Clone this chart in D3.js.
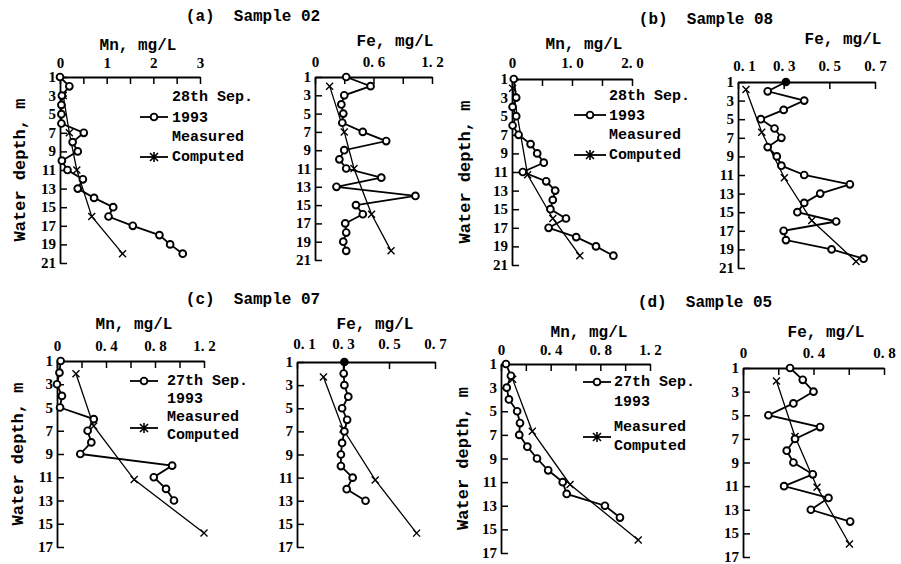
<!DOCTYPE html>
<html>
<head>
<meta charset="utf-8">
<script src="https://cdn.jsdelivr.net/npm/d3@7/dist/d3.min.js"></script>
<style>
  body { margin: 0; background: #fff; }
  svg text { fill: #000; }
</style>
</head>
<body>
<div id="chart"></div>
<script>
// ---- data ----
// depths (m) of measured samples
var depthA = [1,2,3,4,5,6,7,8,9,10,11,12,13,14,15,16,17,18,19,20];
var depthB = [1,3,4,5,6,7,8,9,10,11,12,13,14,15,16,17,18,19,20];
var depthB2 = [1,2,3,4,5,6,7,8,9,10,11,12,13,14,15,16,17,18,19,20];
var depthC = [1,2,3,4,5,6,7,8,9,10,11,12,13];
var depthD = [1,2,3,4,5,6,7,8,9,10,11,12,13,14];

// sample 02
var mnMeasA = [0, 0.2, 0.04, 0.03, 0.03, 0.03, 0.51, 0.27, 0.38, 0.04, 0.16, 0.49, 0.38, 0.73, 1.14, 1.04, 1.56, 2.13, 2.36, 2.63];
var mnCompDepthA = [3, 7, 11, 16, 20];
var mnCompA = [0.07, 0.2, 0.36, 0.68, 1.34];
var feMeasA = [0.32, 0.57, 0.30, 0.27, 0.29, 0.28, 0.49, 0.73, 0.30, 0.25, 0.32, 0.68, 0.22, 1.03, 0.42, 0.49, 0.31, 0.32, 0.29, 0.32];
var feCompDepthA = [2, 7, 11, 16, 20];
var feCompA = [0.15, 0.30, 0.40, 0.58, 0.78];

// sample 08
var mnMeasB = [0.03, 0.07, 0.01, 0.07, 0.01, 0.11, 0.31, 0.42, 0.53, 0.18, 0.57, 0.72, 0.68, 0.64, 0.9, 0.61, 1.07, 1.4, 1.69];
var mnCompDepthB = [2, 11.3, 16, 20];
var mnCompB = [0.01, 0.26, 0.68, 1.13];
var feMeasB = [0.31, 0.23, 0.39, 0.30, 0.20, 0.26, 0.29, 0.23, 0.27, 0.29, 0.39, 0.59, 0.46, 0.39, 0.36, 0.53, 0.30, 0.31, 0.51, 0.65];
var feCompDepthB = [1.8, 6.4, 11.3, 15.9, 20.3];
var feCompB = [0.135, 0.204, 0.303, 0.423, 0.617];

// sample 07
var mnMeasC = [0.03, 0.02, 0, 0.04, 0.025, 0.30, 0.25, 0.28, 0.19, 0.94, 0.79, 0.89, 0.955];
var mnCompDepthC = [2.1, 6.6, 11.2, 15.8];
var mnCompC = [0.155, 0.30, 0.63, 1.2];
var feMeasC = [0.306, 0.303, 0.306, 0.323, 0.296, 0.318, 0.306, 0.296, 0.291, 0.291, 0.342, 0.316, 0.398];
var feCompDepthC = [2.3, 6.8, 11.2, 15.8];
var feCompC = [0.215, 0.30, 0.44, 0.62];

// sample 05
var mnMeasD = [0.04, 0.08, 0.046, 0.064, 0.13, 0.153, 0.147, 0.212, 0.29, 0.38, 0.497, 0.529, 0.837, 0.958];
var mnCompDepthD = [2.3, 6.7, 11.2, 15.9];
var mnCompD = [0.094, 0.252, 0.556, 1.105];
var feMeasD = [0.267, 0.339, 0.40, 0.286, 0.144, 0.4375, 0.295, 0.248, 0.286, 0.396, 0.233, 0.485, 0.385, 0.608];
var feCompDepthD = [2.1, 6.8, 11.1, 15.9];
var feCompD = [0.19, 0.295, 0.42, 0.604];

// tick values and labels
var depthTicks21 = [1,3,5,7,9,11,13,15,17,19,21];
var depthTicks17 = [1,3,5,7,9,11,13,15,17];
var mnTicksA = [0, 0.5, 1, 1.5, 2, 2.5, 3];
var mnLabelsA = ['0', '', '1', '', '2', '', '3'];
var feTicksA = [0, 0.3, 0.6, 0.9, 1.2];
var feLabelsA = ['0', '', '0. 6', '', '1. 2'];
var mnTicksB = [0, 0.5, 1, 1.5, 2];
var mnLabelsB = ['0', '', '1. 0', '', '2. 0'];
var feTicks17 = [0.1, 0.3, 0.5, 0.7];
var feLabels17 = ['0. 1', '0. 3', '0. 5', '0. 7'];
var mnTicks12 = [0, 0.2, 0.4, 0.6, 0.8, 1.0, 1.2];
var mnLabels12 = ['0', '', '0. 4', '', '0. 8', '', '1. 2'];
var feTicksD = [0, 0.2, 0.4, 0.6, 0.8];
var feLabelsD = ['0', '', '0. 4', '', '0. 8'];

var titles = ['(a)  Sample 02', '(b)  Sample 08', '(c)  Sample 07', '(d)  Sample 05'];

// ---- drawing ----
var width = 901, height = 564;
var svg = d3.select('#chart').append('svg')
  .attr('width', width).attr('height', height);

var textFont = 'Liberation Mono, monospace';
var numFont = 'Liberation Serif, serif';

// pad: gap between top axis and its labels, shift0: nudge of first label
var panels = [
  {x0: 60, x1: 200, y0: 77, y1: 263, dmax: 21, dom: [0, 3], ticks: mnTicksA, labels: mnLabelsA, yticks: depthTicks21, pad: 9,
   name: 'Mn, mg/L', nx: 138, ny: 46, depth: depthA, meas: mnMeasA, cdepth: mnCompDepthA, comp: mnCompA, ylab: 20},
  {x0: 315, x1: 432, y0: 77, y1: 260, dmax: 21, dom: [0, 1.2], ticks: feTicksA, labels: feLabelsA, yticks: depthTicks21, pad: 10,
   name: 'Fe, mg/L', nx: 395, ny: 42, depth: depthA, meas: feMeasA, cdepth: feCompDepthA, comp: feCompA},
  {x0: 512, x1: 632, y0: 79, y1: 265, dmax: 21, dom: [0, 2], ticks: mnTicksB, labels: mnLabelsB, yticks: depthTicks21, pad: 11,
   name: 'Mn, mg/L', nx: 584, ny: 45, depth: depthB, meas: mnMeasB, cdepth: mnCompDepthB, comp: mnCompB, ylab: 465},
  {x0: 738, x1: 875, y0: 82, y1: 268, dmax: 21, dom: [0.1, 0.7], ticks: feTicks17, labels: feLabels17, yticks: depthTicks21, pad: 11, shift0: 6,
   name: 'Fe, mg/L', nx: 843, ny: 40, depth: depthB2, meas: feMeasB, cdepth: feCompDepthB, comp: feCompB, solidFirst: true},
  {x0: 57, x1: 204, y0: 361, y1: 547, dmax: 17, dom: [0, 1.2], ticks: mnTicks12, labels: mnLabels12, yticks: depthTicks17, pad: 10,
   name: 'Mn, mg/L', nx: 134, ny: 325, depth: depthC, meas: mnMeasC, cdepth: mnCompDepthC, comp: mnCompC, ylab: 18},
  {x0: 297, x1: 435, y0: 362, y1: 547, dmax: 17, dom: [0.1, 0.7], ticks: feTicks17, labels: feLabels17, yticks: depthTicks17, pad: 13, shift0: 7,
   name: 'Fe, mg/L', nx: 375, ny: 325, depth: depthC, meas: feMeasC, cdepth: feCompDepthC, comp: feCompC, solidFirst: true},
  {x0: 501, x1: 650, y0: 364, y1: 553, dmax: 17, dom: [0, 1.2], ticks: mnTicks12, labels: mnLabels12, yticks: depthTicks17, pad: 9,
   name: 'Mn, mg/L', nx: 589, ny: 333, depth: depthD, meas: mnMeasD, cdepth: mnCompDepthD, comp: mnCompD, ylab: 463},
  {x0: 743, x1: 884, y0: 368, y1: 557, dmax: 17, dom: [0, 0.8], ticks: feTicksD, labels: feLabelsD, yticks: depthTicks17, pad: 10,
   name: 'Fe, mg/L', nx: 826, ny: 333, depth: depthD, meas: feMeasD, cdepth: feCompDepthD, comp: feCompD}
];

function crossPath(s) {
  return 'M' + (-s) + ',' + (-s) + 'L' + s + ',' + s + 'M' + (-s) + ',' + s + 'L' + s + ',' + (-s);
}

panels.forEach(function(p) {
  var g = svg.append('g');
  var x = d3.scaleLinear().domain(p.dom).range([p.x0, p.x1]);
  var y = d3.scaleLinear().domain([1, p.dmax]).range([p.y0, p.y1]);

  // top axis, ticks point inward
  var top = d3.axisTop(x).tickValues(p.ticks).tickSizeInner(-7).tickSizeOuter(0).tickPadding(p.pad)
    .tickFormat(function(d, i) { return p.labels[i]; });
  var gx = g.append('g').attr('transform', 'translate(0,' + p.y0 + ')').call(top);

  var left = d3.axisLeft(y).tickValues(p.yticks).tickSizeInner(-7).tickSizeOuter(0).tickPadding(4);
  var gy = g.append('g').attr('transform', 'translate(' + p.x0 + ',0)').call(left);

  [gx, gy].forEach(function(a) {
    a.select('.domain').attr('stroke', '#000').attr('stroke-width', 1.8);
    a.selectAll('.tick line').attr('stroke', '#000').attr('stroke-width', 1.5);
    a.selectAll('.tick text').attr('fill', '#000')
      .style('font-family', numFont).style('font-size', '15px').style('font-weight', 'bold');
  });
  gx.selectAll('.tick text').attr('dx', function(d, i) { return (i === 0 && p.shift0) ? p.shift0 : 0; });
  gy.selectAll('.tick text').attr('dy', '0.3em');

  // axis name
  g.append('text').attr('x', p.nx).attr('y', p.ny)
    .attr('text-anchor', 'middle').attr('dominant-baseline', 'central')
    .style('font-family', textFont).style('font-size', '16px').style('font-weight', 'bold')
    .text(p.name);

  if (p.ylab !== undefined) {
    g.append('text')
      .attr('transform', 'translate(' + p.ylab + ',' + ((p.y0 + p.y1) / 2) + ') rotate(-90)')
      .attr('text-anchor', 'middle').attr('dominant-baseline', 'central')
      .style('font-family', textFont).style('font-size', '17px').style('font-weight', 'bold')
      .text('Water depth, m');
  }

  // computed profile
  var comp = p.cdepth.map(function(d, i) { return [p.comp[i], d]; });
  var line = d3.line().x(function(d) { return x(d[0]); }).y(function(d) { return y(d[1]); });
  g.append('path').datum(comp).attr('d', line)
    .attr('fill', 'none').attr('stroke', '#000').attr('stroke-width', 1.3);
  g.selectAll('path.cx').data(comp).enter().append('path')
    .attr('class', 'cx')
    .attr('transform', function(d) { return 'translate(' + x(d[0]) + ',' + y(d[1]) + ')'; })
    .attr('d', crossPath(3.5))
    .attr('stroke', '#000').attr('stroke-width', 1.4);

  // measured profile
  var meas = p.depth.map(function(d, i) { return [p.meas[i], d]; });
  g.append('path').datum(meas).attr('d', line)
    .attr('fill', 'none').attr('stroke', '#000').attr('stroke-width', 1.8);
  g.selectAll('circle').data(meas).enter().append('circle')
    .attr('cx', function(d) { return x(d[0]); })
    .attr('cy', function(d) { return y(d[1]); })
    .attr('r', 3.4)
    .attr('fill', function(d, i) { return (p.solidFirst && i === 0) ? '#000' : '#fff'; })
    .attr('stroke', '#000').attr('stroke-width', 1.9);
});

// panel titles
var titlePos = [[253, 17], [706, 20], [253, 300], [705, 303]];
svg.selectAll('text.title').data(titles).enter().append('text')
  .attr('class', 'title')
  .attr('x', function(d, i) { return titlePos[i][0]; })
  .attr('y', function(d, i) { return titlePos[i][1]; })
  .attr('text-anchor', 'middle').attr('dominant-baseline', 'central')
  .style('font-family', textFont).style('font-size', '16px').style('font-weight', 'bold')
  .style('white-space', 'pre')
  .text(function(d) { return d; });

// legends
var legends = [
  {lx: [140, 168], tx: 172, rows: [['28th Sep.', 97], ['1993', 118], ['Measured', 137], ['Computed', 157]], o: 117, c: 157},
  {lx: [574, 606], tx: 609, rows: [['28th Sep.', 96], ['1993', 116], ['Measured', 135], ['Computed', 155]], o: 115, c: 155},
  {lx: [130, 158], tx: 167, rows: [['27th Sep.', 381], ['1993', 399], ['Measured', 417], ['Computed', 435]], o: 381, c: 428},
  {lx: [583, 611], tx: 614, rows: [['27th Sep.', 382], ['1993', 402], ['Measured', 427], ['Computed', 446]], o: 382, c: 437}
];

legends.forEach(function(l) {
  var g = svg.append('g');
  g.selectAll('text').data(l.rows).enter().append('text')
    .attr('x', l.tx).attr('y', function(d) { return d[1]; })
    .attr('dominant-baseline', 'central')
    .style('font-family', textFont).style('font-size', '15px').style('font-weight', 'bold')
    .text(function(d) { return d[0]; });
  var mid = (l.lx[0] + l.lx[1]) / 2;
  g.append('line').attr('x1', l.lx[0]).attr('x2', l.lx[1]).attr('y1', l.o).attr('y2', l.o)
    .attr('stroke', '#000').attr('stroke-width', 1.8);
  g.append('circle').attr('cx', mid).attr('cy', l.o).attr('r', 3.4)
    .attr('fill', '#fff').attr('stroke', '#000').attr('stroke-width', 1.9);
  g.append('line').attr('x1', l.lx[0]).attr('x2', l.lx[1]).attr('y1', l.c).attr('y2', l.c)
    .attr('stroke', '#000').attr('stroke-width', 1.8);
  g.append('path').attr('transform', 'translate(' + mid + ',' + l.c + ')')
    .attr('d', crossPath(4) + 'M0,-5L0,5')
    .attr('stroke', '#000').attr('stroke-width', 1.6);
});
</script>
</body>
</html>
